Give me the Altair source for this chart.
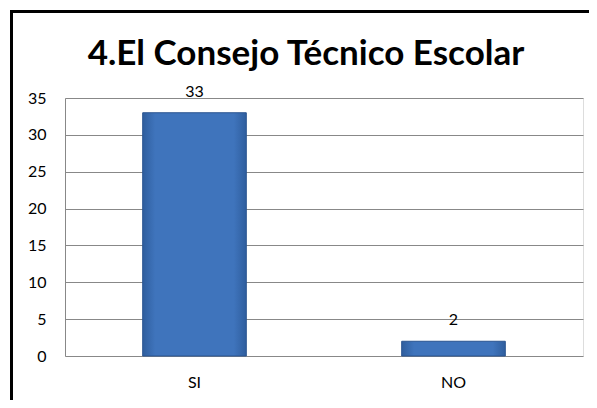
import altair as alt
import pandas as pd

categories = ["SI", "NO"]
values = [33, 2]
y_ticks = [0, 5, 10, 15, 20, 25, 30, 35]
title_text = "4.El Consejo Técnico Escolar"

df = pd.DataFrame({"cat": categories, "val": values})

W, H = 518, 258
FONT = "Lato"
FS = 16

x_enc = alt.X("cat:N", sort=categories,
              scale=alt.Scale(paddingInner=0.6, paddingOuter=0.3),
              axis=alt.Axis(title=None, labelAngle=0, ticks=False, domain=False,
                            labelFont=FONT, labelFontSize=FS, labelColor="black",
                            labelPadding=18))
y_enc = alt.Y("val:Q", scale=alt.Scale(domain=[0, 35], nice=False),
              axis=alt.Axis(title=None, values=y_ticks,
                            ticks=False, domain=True, domainColor="#888888",
                            gridColor="#888888", gridWidth=1,
                            labelFont=FONT, labelFontSize=FS, labelColor="black",
                            labelPadding=19))

base = alt.Chart(df)

bars = base.mark_bar(
    color=alt.Gradient(
        gradient="linear", x1=0, x2=1, y1=0, y2=0,
        stops=[alt.GradientStop(color="#2F5E9E", offset=0),
               alt.GradientStop(color="#3F74BC", offset=0.12),
               alt.GradientStop(color="#3F74BC", offset=0.88),
               alt.GradientStop(color="#2F5E9E", offset=1)]),
    stroke="#2A5490", strokeWidth=1,
).encode(x=x_enc, y=y_enc)

labels = base.mark_text(font=FONT, fontSize=FS, color="black", baseline="alphabetic", dy=-16).encode(
    x=x_enc, y=y_enc, text="val:Q",
)

deco = alt.Chart(alt.Data(values=[{}]))

frame = deco.mark_rect(fill=None, stroke="black", strokeWidth=3).encode(
    x=alt.value(-53.5), x2=alt.value(560), y=alt.value(-86.5), y2=alt.value(340),
)

title = deco.mark_text(font=FONT, fontSize=35, fontWeight="bold", color="black",
                       align="center", baseline="alphabetic").encode(
    x=alt.value(241), y=alt.value(-33), text=alt.value(title_text),
)

chart = alt.layer(bars, labels, frame, title).properties(
    width=W, height=H,
    autosize=alt.AutoSizeParams(type="none"),
    padding={"left": 57, "top": 90, "right": 6, "bottom": 44},
).configure_view(strokeWidth=0, stroke="transparent").configure(background="white")

chart.save("out.html", embed_options={"renderer": "svg", "actions": False})
